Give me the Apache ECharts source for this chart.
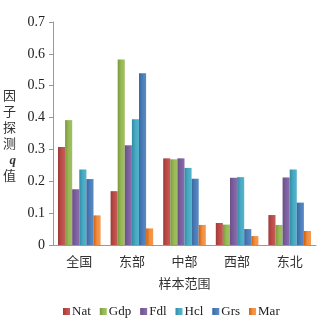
<!DOCTYPE html>
<html>
<head>
<meta charset="utf-8">
<script src="https://cdn.jsdelivr.net/npm/echarts@6/dist/echarts.min.js"></script>
<style>
html, body { margin: 0; padding: 0; background: #fff; }
#main { width: 321px; height: 328px; }
</style>
</head>
<body>
<div id="main"></div>
<script>
let categories = ['全国', '东部', '中部', '西部', '东北'];
let seriesNames = ['Nat', 'Gdp', 'Fdl', 'Hcl', 'Grs', 'Mar'];
let nat = [0.308, 0.169, 0.272, 0.069, 0.094];
let gdp = [0.392, 0.582, 0.269, 0.064, 0.063];
let fdl = [0.175, 0.313, 0.272, 0.211, 0.212];
let hcl = [0.237, 0.395, 0.242, 0.213, 0.237];
let grs = [0.207, 0.539, 0.208, 0.050, 0.133];
let mar = [0.093, 0.052, 0.063, 0.028, 0.044];
let yTicks = ['0', '0.1', '0.2', '0.3', '0.4', '0.5', '0.6', '0.7'];

let colors = ['#BE4B48', '#98B954', '#7D5FA0', '#46AAC5', '#4A7EBB', '#F38E3E'];
let allData = [nat, gdp, fdl, hcl, grs, mar];

let serif = '"Liberation Serif", "Noto Sans CJK SC", serif';

let chart = echarts.init(document.getElementById('main'));

let option = {
    animation: false,
    textStyle: { fontFamily: serif },
    grid: { left: 53, right: 5, top: 22, bottom: 83 },
    legend: {
        bottom: 5,
        left: 58,
        itemWidth: 7,
        itemHeight: 7,
        itemGap: 9,
        icon: 'rect',
        textStyle: { fontFamily: serif, fontSize: 13, color: '#222', padding: [0, 0, 0, -3] },
        data: seriesNames
    },
    xAxis: {
        type: 'category',
        data: categories,
        name: '样本范围',
        nameLocation: 'middle',
        nameGap: 33,
        nameTextStyle: { fontFamily: serif, fontSize: 13, color: '#333' },
        axisLine: { lineStyle: { color: '#999' } },
        axisTick: { lineStyle: { color: '#999' }, length: 4 },
        axisLabel: { fontFamily: serif, fontSize: 13, color: '#333', margin: 11 }
    },
    yAxis: {
        type: 'value',
        min: 0,
        max: 0.7,
        interval: 0.1,
        name: '因\n子\n探\n测\n{q|q}\n值',
        nameLocation: 'middle',
        nameRotate: 0,
        nameGap: 37,
        nameTextStyle: {
            fontFamily: serif, fontSize: 13, color: '#333', lineHeight: 16,
            padding: [0, 0, -6, 0],
            rich: { q: { fontFamily: serif, fontStyle: 'italic', fontWeight: 'bold', fontSize: 13, color: '#333' } }
        },
        splitLine: { show: false },
        axisLine: { show: true, lineStyle: { color: '#999' } },
        axisTick: { show: true, length: 4, lineStyle: { color: '#999' } },
        axisLabel: {
            fontFamily: serif, fontSize: 14, color: '#222', margin: 8,
            formatter: function (v) { return yTicks[Math.round(v * 10)]; }
        }
    },
    series: seriesNames.map(function (name, i) {
        return {
            name: name,
            type: 'bar',
            data: allData[i],
            barGap: '0%',
            barCategoryGap: '19%',
            itemStyle: {
                color: new echarts.graphic.LinearGradient(0, 0, 1, 0, [
                    { offset: 0, color: echarts.color.modifyHSL(colors[i], null, null, 0.42) },
                    { offset: 0.5, color: colors[i] },
                    { offset: 1, color: echarts.color.lift(colors[i], 0.1) }
                ])
            }
        };
    }),
    color: colors
};

chart.setOption(option);
</script>
</body>
</html>
